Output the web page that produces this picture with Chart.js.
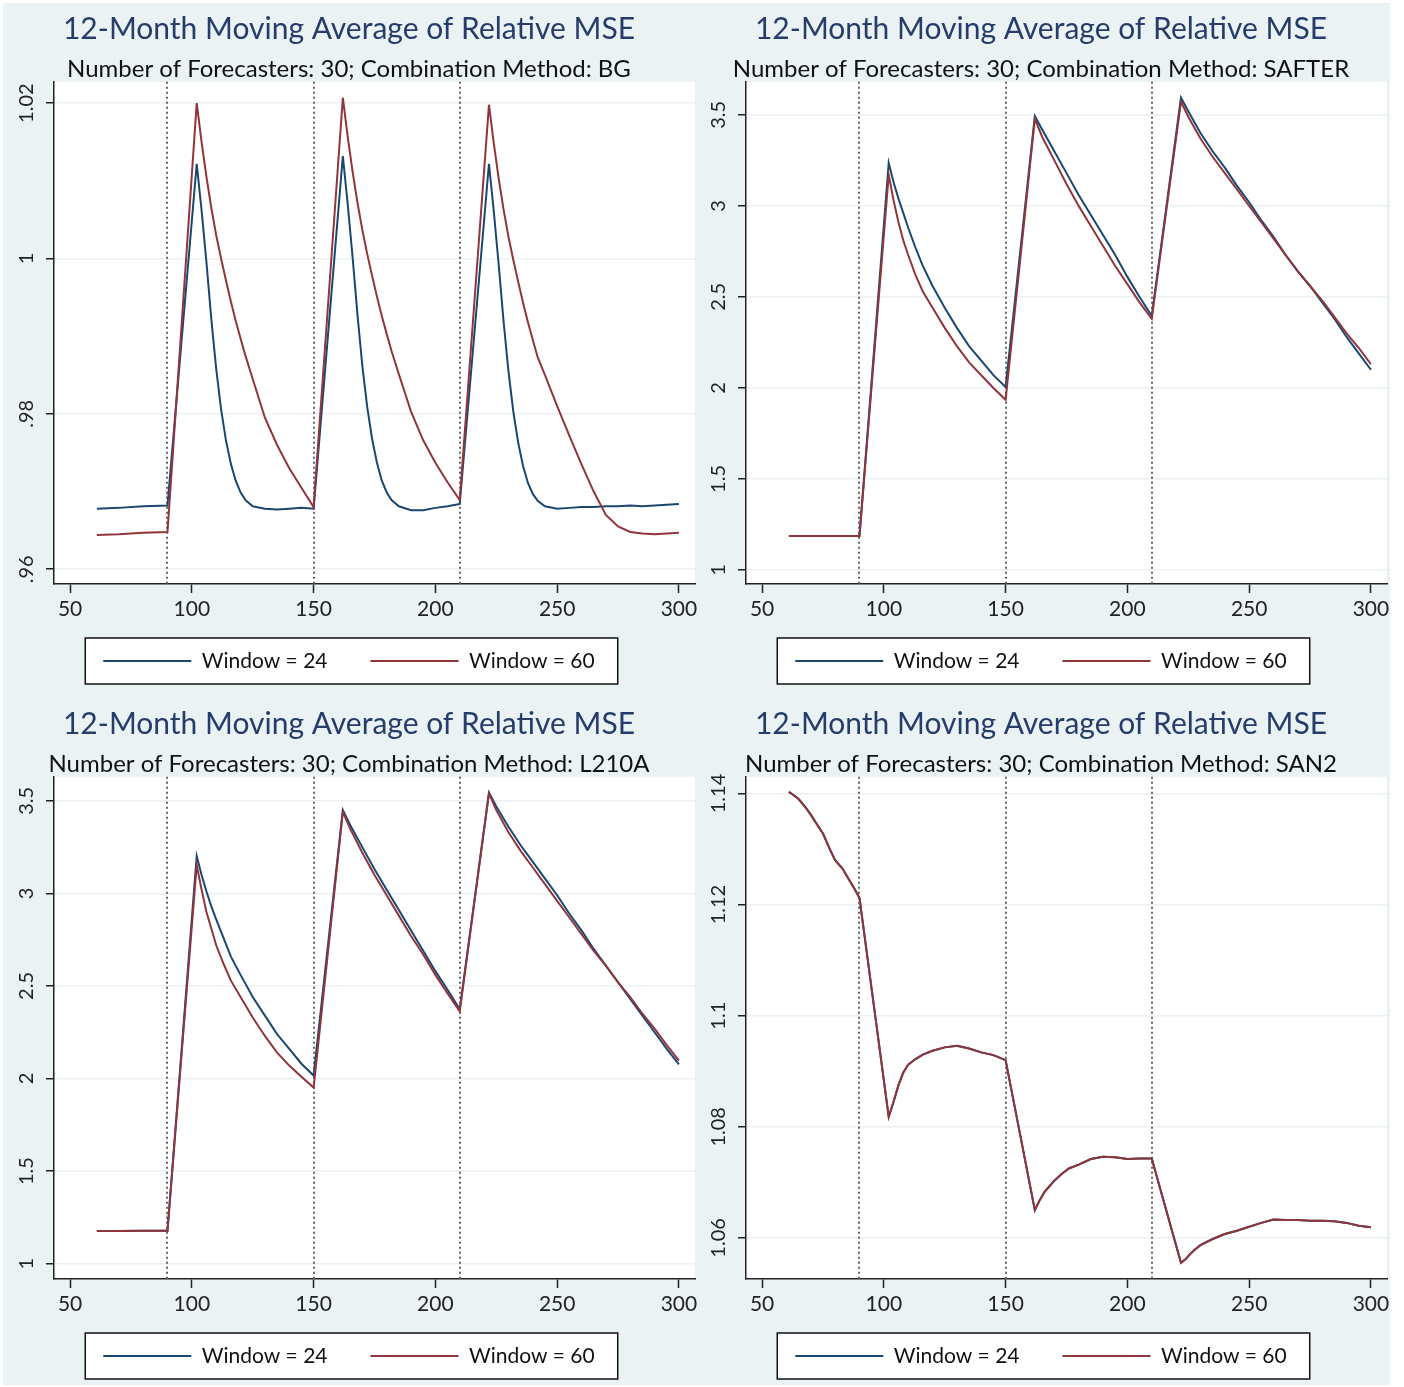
<!DOCTYPE html>
<html>
<head>
<meta charset="utf-8">
<script src="https://cdn.jsdelivr.net/npm/chart.js@4"></script>
<style>
  body { margin: 0; background: #fff; }
  #wrap { position: relative; width: 1404px; height: 1387px; }
  #bg { position: absolute; left: 3px; top: 3px; width: 1387px; height: 1382px; background: #EAF2F3; }
  canvas { position: absolute; }
</style>
</head>
<body>
<div id="wrap">
  <div id="bg"></div>
  <canvas id="bgChart" width="700" height="694" style="left:0;top:0"></canvas>
  <canvas id="safterChart" width="700" height="694" style="left:692px;top:0"></canvas>
  <canvas id="l210aChart" width="700" height="694" style="left:0;top:695px"></canvas>
  <canvas id="san2Chart" width="700" height="694" style="left:692px;top:695px"></canvas>
</div>
<script>
// Four Stata-style panels: 12-month moving average of relative MSE, two estimation windows.
const TITLE = '12-Month Moving Average of Relative MSE';
const SERIES_LABELS = ['Window = 24', 'Window = 60'];
const X_TICKS = [50, 100, 150, 200, 250, 300];
const X_LABELS = ['50', '100', '150', '200', '250', '300'];
const BREAKS = [90, 150, 210];

// BG
const BG_X = [61, 70, 80, 90,
  102, 104, 106, 108, 110, 112, 114, 116, 118, 120, 122, 125, 130, 135, 140, 145, 150,
  162, 164, 166, 168, 170, 172, 174, 176, 178, 180, 182, 185, 190, 195, 200, 205, 210,
  222, 224, 226, 228, 230, 232, 234, 236, 238, 240, 242, 245, 250, 255, 260, 265, 270, 275, 280, 285, 290, 295, 300];
const BG_W24 = [0.9678, 0.9679, 0.9681, 0.9682,
  1.0122, 1.0062, 0.9995, 0.9922, 0.9858, 0.9806, 0.9766, 0.9736, 0.9714, 0.9699, 0.9689, 0.9681, 0.9678, 0.9677, 0.9678, 0.9679, 0.9678,
  1.0132, 1.0070, 1.0002, 0.9928, 0.9862, 0.9809, 0.9768, 0.9737, 0.9714, 0.9699, 0.9689, 0.9681, 0.9676, 0.9676, 0.9679, 0.9681, 0.9684,
  1.0122, 1.0060, 0.9992, 0.9919, 0.9855, 0.9803, 0.9763, 0.9733, 0.9711, 0.9697, 0.9688, 0.9681, 0.9678, 0.9679, 0.9680, 0.9680, 0.9681, 0.9681, 0.9682, 0.9681, 0.9682, 0.9683, 0.9684];
const BG_W60 = [0.9644, 0.9645, 0.9647, 0.9648,
  1.0200, 1.0150, 1.0105, 1.0065, 1.0030, 1.0000, 0.9972, 0.9945, 0.9920, 0.9897, 0.9875, 0.9845, 0.9795, 0.9760, 0.9730, 0.9705, 0.9680,
  1.0207, 1.0157, 1.0112, 1.0072, 1.0037, 1.0006, 0.9978, 0.9951, 0.9926, 0.9903, 0.9881, 0.9851, 0.9803, 0.9766, 0.9737, 0.9712, 0.9689,
  1.0198, 1.0148, 1.0103, 1.0063, 1.0028, 0.9998, 0.9970, 0.9943, 0.9918, 0.9895, 0.9873, 0.9850, 0.9810, 0.9772, 0.9735, 0.9700, 0.9670, 0.9655, 0.9648, 0.9646, 0.9645, 0.9646, 0.9647];
const BG_Y_TICKS = [0.96, 0.98, 1, 1.02];
const BG_Y_LABELS = ['.96', '.98', '1', '1.02'];

// SAFTER
const SAFTER_X = [61, 70, 80, 90,
  102, 104, 106, 108, 110, 113, 116, 120, 125, 130, 135, 140, 145, 150,
  162, 165, 170, 175, 180, 185, 190, 195, 200, 205, 210,
  222, 225, 230, 235, 240, 245, 250, 255, 260, 265, 270, 275, 280, 285, 290, 295, 300];
const SAFTER_W24 = [1.186, 1.186, 1.187, 1.187,
  3.236, 3.13, 3.04, 2.96, 2.88, 2.77, 2.67, 2.56, 2.44, 2.33, 2.23, 2.15, 2.07, 2.005,
  3.494, 3.42, 3.30, 3.18, 3.06, 2.95, 2.84, 2.73, 2.61, 2.50, 2.395,
  3.594, 3.52, 3.40, 3.30, 3.21, 3.11, 3.02, 2.92, 2.83, 2.73, 2.64, 2.56, 2.47, 2.38, 2.28, 2.19, 2.10];
const SAFTER_W60 = [1.186, 1.186, 1.187, 1.187,
  3.170, 3.03, 2.91, 2.81, 2.73, 2.62, 2.53, 2.44, 2.33, 2.23, 2.14, 2.07, 2.00, 1.935,
  3.478, 3.38, 3.25, 3.12, 3.00, 2.89, 2.78, 2.67, 2.57, 2.47, 2.38,
  3.572, 3.49, 3.37, 3.27, 3.18, 3.09, 3.00, 2.91, 2.82, 2.73, 2.64, 2.56, 2.48, 2.39, 2.30, 2.22, 2.13];
const SAFTER_Y_TICKS = [1, 1.5, 2, 2.5, 3, 3.5];
const SAFTER_Y_LABELS = ['1', '1.5', '2', '2.5', '3', '3.5'];

// L210A
const L210A_X = SAFTER_X;
const L210A_W24 = [1.176, 1.176, 1.177, 1.177,
  3.202, 3.10, 3.01, 2.93, 2.86, 2.76, 2.66, 2.56, 2.44, 2.34, 2.24, 2.16, 2.08, 2.016,
  3.450, 3.37, 3.25, 3.13, 3.02, 2.91, 2.80, 2.69, 2.58, 2.48, 2.374,
  3.545, 3.47, 3.36, 3.26, 3.17, 3.08, 2.99, 2.89, 2.80, 2.70, 2.61, 2.52, 2.43, 2.34, 2.25, 2.16, 2.076];
const L210A_W60 = [1.176, 1.176, 1.177, 1.177,
  3.153, 3.02, 2.90, 2.81, 2.72, 2.62, 2.53, 2.44, 2.33, 2.23, 2.14, 2.07, 2.01, 1.951,
  3.440, 3.35, 3.22, 3.10, 2.99, 2.88, 2.77, 2.67, 2.56, 2.46, 2.363,
  3.540, 3.45, 3.33, 3.23, 3.14, 3.05, 2.96, 2.87, 2.78, 2.69, 2.61, 2.52, 2.44, 2.35, 2.27, 2.18, 2.097];
const L210A_Y_TICKS = SAFTER_Y_TICKS;
const L210A_Y_LABELS = SAFTER_Y_LABELS;

// SAN2 (the two windows overlap almost exactly)
const SAN2_X = [61, 63, 65, 68, 70, 72, 75, 78, 80, 83, 85, 88, 90,
  102, 104, 106, 108, 110, 113, 116, 120, 125, 130, 135, 140, 145, 150,
  162, 164, 166, 168, 170, 173, 176, 180, 185, 190, 195, 200, 205, 210,
  222, 224, 226, 228, 230, 235, 240, 245, 250, 255, 260, 265, 270, 275, 280, 285, 290, 295, 300];
const SAN2_W24 = [1.1403, 1.1397, 1.1390, 1.1374, 1.1362, 1.1348, 1.1328, 1.1298, 1.1280, 1.1265, 1.1250, 1.1228, 1.1212,
  1.0818, 1.0845, 1.0875, 1.0898, 1.0912, 1.0922, 1.0930, 1.0937, 1.0943, 1.0946, 1.0941, 1.0934, 1.0929, 1.0920,
  1.0650, 1.0668, 1.0683, 1.0693, 1.0703, 1.0715, 1.0725, 1.0732, 1.0742, 1.0746, 1.0745, 1.0742, 1.0743, 1.0743,
  1.0555, 1.0562, 1.0572, 1.0580, 1.0587, 1.0598, 1.0607, 1.0613, 1.0620, 1.0627, 1.0633, 1.0632, 1.0632, 1.0631, 1.0631, 1.0630, 1.0627, 1.0622, 1.0619];
const SAN2_W60 = [1.1403, 1.1397, 1.1390, 1.1374, 1.1362, 1.1348, 1.1328, 1.1298, 1.1280, 1.1265, 1.1250, 1.1228, 1.1212,
  1.0818, 1.0845, 1.0875, 1.0898, 1.0912, 1.0922, 1.0930, 1.0937, 1.0943, 1.0946, 1.0941, 1.0934, 1.0929, 1.0920,
  1.0650, 1.0668, 1.0683, 1.0693, 1.0703, 1.0715, 1.0725, 1.0732, 1.0742, 1.0746, 1.0745, 1.0742, 1.0743, 1.0743,
  1.0555, 1.0562, 1.0572, 1.0580, 1.0587, 1.0598, 1.0607, 1.0613, 1.0620, 1.0627, 1.0633, 1.0632, 1.0632, 1.0631, 1.0631, 1.0630, 1.0627, 1.0622, 1.0619];
const SAN2_Y_TICKS = [1.06, 1.08, 1.1, 1.12, 1.14];
const SAN2_Y_LABELS = ['1.06', '1.08', '1.1', '1.12', '1.14'];

const FONT = 'Lato, "Open Sans", sans-serif';
const BLUE = '#1A476F';
const RED = '#90353B';
const GRID = '#EAF2F3';
const INK = '#222';

Chart.defaults.font.family = FONT;
Chart.defaults.color = INK;

// white plot region + framed legend box
const plotFrame = {
  id: 'plotFrame',
  beforeDraw(chart) {
    const { ctx, chartArea: a } = chart;
    ctx.save();
    ctx.fillStyle = '#fff';
    ctx.fillRect(a.left, a.top, a.right - a.left, a.bottom - a.top);
    const boxes = chart.legend && chart.legend.legendHitBoxes;
    if (boxes && boxes.length) {
      const l = Math.min(...boxes.map((b) => b.left)) - 18;
      const r = Math.max(...boxes.map((b) => b.left + b.width)) + 23;
      const t = boxes[0].top + boxes[0].height / 2 - 23;
      ctx.fillRect(l, t, r - l, 46);
      ctx.strokeStyle = '#111';
      ctx.lineWidth = 1.5;
      ctx.strokeRect(l, t, r - l, 46);
    }
    ctx.restore();
  },
};

// dotted vertical lines at the break dates
const breakLines = {
  id: 'breakLines',
  beforeDatasetsDraw(chart) {
    const { ctx, chartArea: a, scales: { x } } = chart;
    ctx.save();
    ctx.strokeStyle = '#666';
    ctx.lineWidth = 2;
    ctx.setLineDash([2, 3]);
    BREAKS.forEach((v) => {
      const px = Math.round(x.getPixelForValue(v));
      ctx.beginPath();
      ctx.moveTo(px, a.top);
      ctx.lineTo(px, a.bottom);
      ctx.stroke();
    });
    ctx.restore();
  },
};

// tick labels drawn by hand: Stata turns the y labels 90 degrees
const axisLabels = {
  id: 'axisLabels',
  afterDraw(chart, args, opts) {
    const { ctx, chartArea: a, scales: { x, y } } = chart;
    ctx.save();
    ctx.fillStyle = INK;
    ctx.textAlign = 'center';
    ctx.textBaseline = 'middle';
    ctx.font = '21px ' + FONT;
    X_TICKS.forEach((v, i) => ctx.fillText(X_LABELS[i], x.getPixelForValue(v), a.bottom + 25));
    ctx.font = '20px ' + FONT;
    opts.values.forEach((v, i) => {
      ctx.save();
      ctx.translate(a.left - 27, y.getPixelForValue(v));
      ctx.rotate(-Math.PI / 2);
      ctx.fillText(opts.labels[i], 0, 0);
      ctx.restore();
    });
    ctx.restore();
  },
};

function line(label, xs, ys, color) {
  return {
    label,
    data: xs.map((x, i) => ({ x, y: ys[i] })),
    borderColor: color,
    backgroundColor: color,
    borderWidth: 2,
    pointRadius: 0,
    tension: 0,
    fill: false,
  };
}

function drawPanel(p) {
  return new Chart(document.getElementById(p.canvas), {
    type: 'line',
    data: {
      // window 60 first so it is painted on top, legend order is flipped below
      datasets: [line(SERIES_LABELS[1], p.x, p.w60, RED), line(SERIES_LABELS[0], p.x, p.w24, BLUE)],
    },
    plugins: [plotFrame, breakLines, axisLabels],
    options: {
      responsive: false,
      animation: false,
      layout: { padding: { left: 3, right: 5, top: 0, bottom: 12.5 } },
      scales: {
        x: {
          type: 'linear',
          min: 43.4,
          max: 306.6,
          afterBuildTicks: (s) => { s.ticks = X_TICKS.map((v) => ({ value: v })); },
          afterFit: (s) => { s.height = 23.5; },
          ticks: { display: false },
          grid: { drawOnChartArea: false, drawTicks: true, tickLength: 9, tickColor: INK, tickWidth: 1.5 },
          border: { color: INK, width: 1.5 },
        },
        y: {
          min: p.yMin,
          max: p.yMax,
          afterBuildTicks: (s) => { s.ticks = p.yTicks.map((v) => ({ value: v })); },
          afterFit: (s) => { s.width = 51; },
          ticks: { display: false },
          grid: { color: GRID, lineWidth: 1.5, drawTicks: true, tickLength: 8, tickColor: INK, tickWidth: 1.5 },
          border: { color: INK, width: 1.5 },
        },
      },
      plugins: {
        title: {
          display: true,
          text: TITLE,
          color: '#263C6B',
          font: { size: 30, weight: 'normal', lineHeight: 1.2 },
          padding: { top: 11, bottom: 0 },
        },
        subtitle: {
          display: true,
          text: p.subtitle,
          color: '#111',
          font: { size: 24, weight: 'normal', lineHeight: 1 },
          padding: { top: 10, bottom: 0.8 },
        },
        legend: {
          position: 'bottom',
          labels: {
            usePointStyle: true,
            pointStyle: 'line',
            pointStyleWidth: 88,
            padding: 43,
            color: '#111',
            font: { size: 21 },
            sort: (a, b) => b.datasetIndex - a.datasetIndex,
          },
        },
        tooltip: { enabled: false },
        axisLabels: { values: p.yTicks, labels: p.yLabels },
      },
    },
  });
}

drawPanel({ canvas: 'bgChart', subtitle: 'Number of Forecasters: 30; Combination Method: BG',
  x: BG_X, w24: BG_W24, w60: BG_W60, yTicks: BG_Y_TICKS, yLabels: BG_Y_LABELS, yMin: 0.9581, yMax: 1.02275 });
drawPanel({ canvas: 'safterChart', subtitle: 'Number of Forecasters: 30; Combination Method: SAFTER',
  x: SAFTER_X, w24: SAFTER_W24, w60: SAFTER_W60, yTicks: SAFTER_Y_TICKS, yLabels: SAFTER_Y_LABELS, yMin: 0.9229, yMax: 3.6817 });
drawPanel({ canvas: 'l210aChart', subtitle: 'Number of Forecasters: 30; Combination Method: L210A',
  x: L210A_X, w24: L210A_W24, w60: L210A_W60, yTicks: L210A_Y_TICKS, yLabels: L210A_Y_LABELS, yMin: 0.917, yMax: 3.630 });
drawPanel({ canvas: 'san2Chart', subtitle: 'Number of Forecasters: 30; Combination Method: SAN2',
  x: SAN2_X, w24: SAN2_W24, w60: SAN2_W60, yTicks: SAN2_Y_TICKS, yLabels: SAN2_Y_LABELS, yMin: 1.0526, yMax: 1.14301 });
</script>
</body>
</html>
